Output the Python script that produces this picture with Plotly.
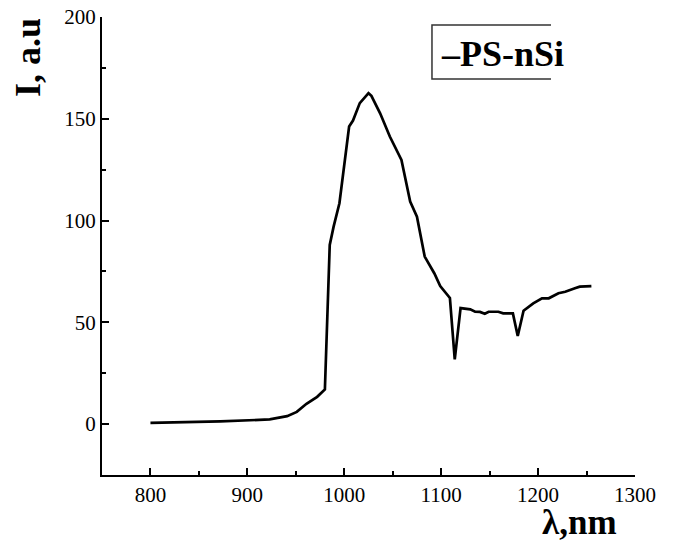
import plotly.graph_objects as go

# Photoluminescence spectrum of porous silicon on n-type Si
wavelength_nm = [800, 843, 872, 923, 941, 951, 961, 972, 980, 985, 989, 995,
                 1005, 1009, 1016, 1025, 1028, 1037, 1047, 1059, 1068, 1075,
                 1083, 1093, 1099, 1109, 1114, 1120, 1130, 1135, 1140, 1145,
                 1149, 1159, 1164, 1174, 1179, 1185, 1195, 1204, 1211, 1221,
                 1228, 1238, 1243, 1255]
intensity_au = [0.6, 1.0, 1.3, 2.3, 3.9, 6.0, 10.0, 13.4, 17.0, 88, 97, 108.5,
                146.2, 149.1, 157.7, 162.6, 161.3, 152.7, 141.3, 129.8, 109.3, 101.9,
                82.3, 74.0, 67.8, 62.0, 31.8, 57.0, 56.4, 55.2, 55.1, 54.2,
                55.2, 55.2, 54.4, 54.4, 43.3, 55.7, 59.3, 61.8, 61.8, 64.3,
                65.0, 66.7, 67.5, 67.8]

x_ticks = [800, 900, 1000, 1100, 1200, 1300]
y_ticks = [0, 50, 100, 150, 200]
series_name = "–PS-nSi"

SERIF = "Liberation Serif"

fig = go.Figure()
fig.add_trace(go.Scatter(
    x=wavelength_nm, y=intensity_au, mode="lines",
    line=dict(color="black", width=2.7), name=series_name, showlegend=False,
))


def axis_style(minor_step):
    return dict(
        showline=True, linecolor="black", linewidth=2,
        ticks="inside", ticklen=7, tickwidth=2, tickcolor="black",
        showgrid=False, zeroline=False, mirror=False, automargin=False,
        tickfont=dict(family=SERIF, size=21, color="black"),
        minor=dict(dtick=minor_step, ticks="inside", ticklen=4, tickwidth=2,
                   tickcolor="black", showgrid=False),
    )


fig.update_xaxes(range=[750, 1300], tickvals=x_ticks, **axis_style(50))
fig.update_yaxes(range=[-25, 200], tickvals=y_ticks, **axis_style(25))

fig.update_layout(
    width=674, height=547,
    margin=dict(l=102, r=39, t=17, b=72, autoexpand=False),
    plot_bgcolor="white", paper_bgcolor="white",
    font=dict(family=SERIF, color="black"),
    annotations=[
        dict(text="<b>I, a.u</b>", xref="paper", yref="paper", x=-0.139, y=0.9127,
             textangle=-90, showarrow=False, xanchor="center", yanchor="middle",
             font=dict(family=SERIF, size=36, color="black")),
        dict(text="<b>λ,nm</b>", xref="paper", yref="paper", x=0.895, y=-0.1037,
             showarrow=False, xanchor="center", yanchor="middle",
             font=dict(family=SERIF, size=35, color="black")),
        dict(text="<b>" + series_name + "</b>", xref="paper", yref="paper",
             x=0.7514, y=0.9203, showarrow=False, xanchor="center", yanchor="middle",
             font=dict(family=SERIF, size=36, color="black")),
    ],
    shapes=[
        dict(type="path", xref="paper", yref="paper",
             path="M 0.8424 0.9825 L 0.6191 0.9825 L 0.6191 0.8646 L 0.8424 0.8646",
             line=dict(color="#333333", width=1.5)),
    ],
)

fig.write_html("out.html")
